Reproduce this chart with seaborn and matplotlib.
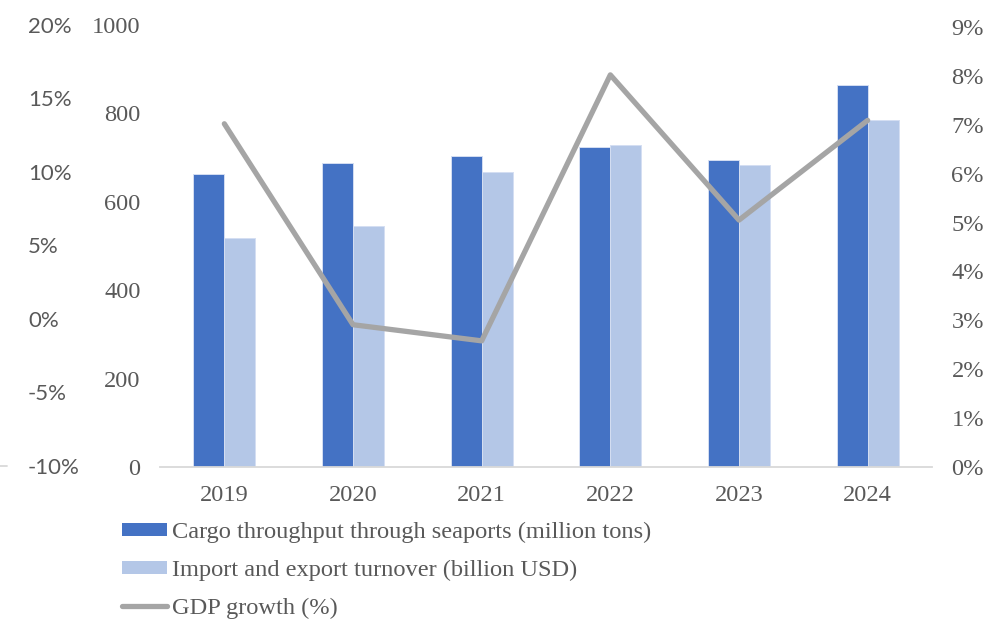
import numpy as np
import pandas as pd
import matplotlib
matplotlib.use("Agg")
import matplotlib.pyplot as plt
from matplotlib.lines import Line2D
from matplotlib.patches import Patch
import seaborn as sns

years = ["2019", "2020", "2021", "2022", "2023", "2024"]
cargo = [664, 688, 703, 723, 694, 864]          # million tons
trade = [517, 545, 668, 728, 683, 785]          # billion USD
gdp = [7.02, 2.91, 2.58, 8.02, 5.05, 7.09]      # %

cargo_label = "Cargo throughput through seaports (million tons)"
trade_label = "Import and export turnover (billion USD)"
gdp_label = "GDP growth (%)"

outer_ticks = [-10, -5, 0, 5, 10, 15, 20]
count_ticks = [0, 200, 400, 600, 800, 1000]
pct_ticks = list(range(0, 10))

c_cargo = "#4472C4"
c_trade = "#B4C7E7"
c_gdp = "#A5A5A5"
c_text = "#595959"

sns.set_theme(style="white")
serif = "Liberation Serif"
sans = "Lato"
fs = 17.6

df = pd.DataFrame({
    "year": years * 2,
    "value": cargo + trade,
    "series": [cargo_label] * len(years) + [trade_label] * len(years),
})

fig = plt.figure(figsize=(9.86, 6.2), dpi=100)
ax = fig.add_axes([160 / 986, 1 - 467 / 620, (932 - 160) / 986, (467 - 25) / 620])

sns.barplot(data=df, x="year", y="value", hue="series", order=years,
            hue_order=[cargo_label, trade_label],
            palette=[c_cargo, c_trade], saturation=1, width=0.48, gap=0,
            edgecolor="#d4def2", linewidth=0.7, ax=ax, legend=False)
ax.set_xlim(-0.5, len(years) - 0.5)
ax.set_ylim(0, 1000)
ax.set_yticks(count_ticks)
ax.set_yticklabels([str(v) for v in count_ticks])
ax.set_xlabel("")
ax.set_ylabel("")
for s in ["top", "left", "right"]:
    ax.spines[s].set_visible(False)
ax.spines["bottom"].set_color("#D9D9D9")
ax.spines["bottom"].set_linewidth(1.3)
ax.tick_params(axis="both", length=0, colors=c_text)
ax.tick_params(axis="x", pad=13)
ax.tick_params(axis="y", pad=14)
for lab in ax.get_xticklabels() + ax.get_yticklabels():
    lab.set_fontfamily(serif)
    lab.set_fontsize(fs)
    lab.set_color(c_text)

# GDP growth on the right-hand percentage axis
ax2 = ax.twinx()
sns.lineplot(x=np.arange(len(years)), y=gdp, color=c_gdp, linewidth=3.8,
             ax=ax2, solid_capstyle="round", solid_joinstyle="round")
ax2.set_ylim(0, 9.04)
ax2.set_yticks(pct_ticks)
ax2.set_yticklabels([f"{v}%" for v in pct_ticks])
for s in ax2.spines.values():
    s.set_visible(False)
ax2.tick_params(axis="y", length=0, pad=14, colors=c_text)
for lab in ax2.get_yticklabels():
    lab.set_fontfamily(serif)
    lab.set_fontsize(fs)
    lab.set_color(c_text)

# Outer left percentage scale
ax3 = ax.twinx()
ax3.yaxis.tick_left()
ax3.set_ylim(-10.07, 19.75)
ax3.set_yticks(outer_ticks)
ax3.set_yticklabels([f"{v}%" for v in outer_ticks])
for s in ax3.spines.values():
    s.set_visible(False)
ax3.tick_params(axis="y", length=0, pad=95, colors=c_text)
for lab in ax3.get_yticklabels():
    lab.set_fontfamily(sans)
    lab.set_fontsize(16)
    lab.set_color(c_text)
    lab.set_horizontalalignment("left")

fig.add_artist(Line2D([0, 7 / 986], [1 - 466 / 620] * 2, color="#D9D9D9",
                      linewidth=1.3, transform=fig.transFigure))

handles = [
    Patch(facecolor=c_cargo, edgecolor="none", label=cargo_label),
    Patch(facecolor=c_trade, edgecolor="none", label=trade_label),
    Line2D([0], [0], color=c_gdp, linewidth=3.8, solid_capstyle="round", label=gdp_label),
]
leg = fig.legend(handles=handles, loc="upper left",
                 bbox_to_anchor=(122 / 986, 1 - 522 / 620),
                 frameon=False, borderpad=0, borderaxespad=0,
                 handlelength=1.85, handleheight=0.45, handletextpad=0.2,
                 labelspacing=0.68, prop={"family": serif, "size": fs})
for t in leg.get_texts():
    t.set_color(c_text)

fig.savefig("out.png", dpi=100, facecolor="white")
